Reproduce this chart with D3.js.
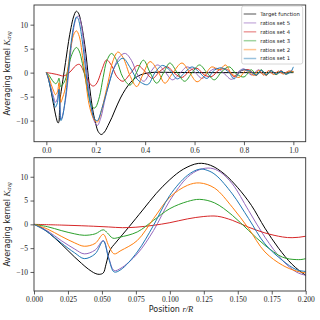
<!DOCTYPE html>
<html>
<head>
<meta charset="utf-8">
<script src="https://cdn.jsdelivr.net/npm/d3@7"></script>
<style>
body{margin:0;background:#fff}
svg{display:block}
</style>
</head>
<body>
<div id="chart"></div>
<script>
// series, in legend order
const seriesNames=["Target function","ratios set 5","ratios set 4","ratios set 3","ratios set 2","ratios set 1"];
const seriesColors=["#000000","#9467bd","#d62728","#2ca02c","#ff7f0e","#1f77b4"];

// [r/R, K_avg]
const target=[[0,0],[0.005,-0.6],[0.01,-1.6],[0.015,-2.8],[0.02,-4.1],[0.025,-5.5],[0.03,-6.9],[0.035,-8.2],[0.04,-9.4],[0.045,-10.3],[0.048,-10.5],[0.051,-10.2],[0.053,-8.4],[0.056,-5.4],[0.06,-3.9],[0.065,-2.2],[0.07,-0.5],[0.08,3.0],[0.09,6.5],[0.1,9.4],[0.11,11.6],[0.121,12.8],[0.13,12.4],[0.14,10.6],[0.15,7.7],[0.16,4.0],[0.17,-0.8],[0.18,-5.0],[0.19,-8.4],[0.2,-10.7],[0.21,-12.3],[0.222,-12.9],[0.235,-12.4],[0.25,-11],[0.265,-9.4],[0.278,-7.8],[0.3,-5.3],[0.32,-3.5],[0.34,-2.1],[0.36,-1.1],[0.38,-0.5],[0.42,0],[0.5,0.05],[0.6,0],[0.7,0],[0.8,0],[0.9,0],[1.0,0]];
const set5=[[0,0],[0.01,-1.4],[0.02,-3.4],[0.03,-5.2],[0.037,-6.2],[0.045,-5.4],[0.051,-3.4],[0.055,-7],[0.059,-9.7],[0.064,-9.2],[0.076,-6.2],[0.088,-1.3],[0.1,5.0],[0.113,9.9],[0.122,11.5],[0.13,11.8],[0.137,11.0],[0.146,8.5],[0.158,2.9],[0.17,-2.7],[0.183,-7.6],[0.193,-10],[0.2,-10.7],[0.207,-11],[0.22,-9.5],[0.24,-5],[0.27,0.5],[0.3,3.5],[0.32,4.0],[0.345,2.5],[0.37,-0.5],[0.395,-1.8],[0.42,0],[0.45,1.6],[0.48,0.2],[0.51,-1.5],[0.54,-0.2],[0.57,1.2],[0.6,0.2],[0.63,-1.2],[0.66,0.2],[0.69,0.9],[0.72,-0.2],[0.75,-1.4],[0.78,0.3],[0.8,0.8],[0.83,-0.5],[0.86,0.6],[0.88,-0.5],[0.9,0.4],[0.92,-0.3],[0.94,0.3],[0.96,-0.2],[0.98,0.3],[1.0,0.2]];
const set4=[[0,0],[0.02,-0.15],[0.04,-0.35],[0.055,-0.55],[0.065,-0.7],[0.075,-0.6],[0.088,-0.2],[0.1,0.35],[0.113,1.15],[0.125,1.65],[0.135,1.7],[0.146,0.85],[0.158,-0.6],[0.17,-1.8],[0.183,-2.65],[0.19,-2.8],[0.2,-2.5],[0.21,-1.6],[0.225,0.6],[0.244,2.65],[0.265,1.4],[0.285,-0.8],[0.31,-1.8],[0.34,-0.2],[0.37,1.5],[0.4,0.2],[0.43,-1.2],[0.46,0.3],[0.49,1.2],[0.52,-0.2],[0.55,-1.0],[0.58,0.4],[0.61,0.9],[0.64,-0.5],[0.67,-0.8],[0.7,0.6],[0.73,0.7],[0.76,-0.8],[0.79,0.4],[0.82,0.6],[0.85,-0.6],[0.87,0.5],[0.89,-0.6],[0.91,0.5],[0.93,-0.4],[0.95,0.4],[0.97,-0.3],[0.99,0.3],[1.0,0.2]];
const set3=[[0,0],[0.01,-0.5],[0.02,-1.3],[0.03,-2.0],[0.037,-2.3],[0.045,-2.0],[0.051,-1.15],[0.054,-1.8],[0.058,-2.9],[0.063,-2.7],[0.076,-1.6],[0.088,0.85],[0.1,3.3],[0.113,4.8],[0.122,5.25],[0.133,4.5],[0.146,1.9],[0.158,-1.3],[0.17,-4.4],[0.183,-6.9],[0.193,-7.4],[0.2,-7.2],[0.215,-5.0],[0.23,-1.0],[0.245,2.5],[0.264,4.0],[0.285,2.5],[0.31,-1.0],[0.339,-2.6],[0.365,0],[0.393,2.6],[0.42,0],[0.447,-2.2],[0.475,0],[0.5,2.0],[0.53,0],[0.56,-1.8],[0.59,0],[0.62,1.6],[0.65,0],[0.68,-1.5],[0.71,0.2],[0.74,1.2],[0.77,-0.3],[0.8,-0.9],[0.83,0.6],[0.85,-0.5],[0.87,0.6],[0.89,-0.5],[0.91,0.4],[0.93,-0.4],[0.95,0.3],[0.97,-0.3],[0.99,0.2],[1.0,0.1]];
const set2=[[0,0],[0.01,-1.0],[0.02,-2.5],[0.03,-3.9],[0.037,-4.6],[0.045,-4.0],[0.051,-2.1],[0.055,-4.5],[0.059,-6.2],[0.064,-5.5],[0.076,-3.4],[0.088,1.2],[0.1,5.7],[0.113,8.2],[0.122,8.7],[0.133,7.6],[0.146,3.6],[0.158,-0.9],[0.17,-5.8],[0.183,-8.6],[0.193,-9.8],[0.2,-10.2],[0.207,-10.3],[0.225,-7.5],[0.25,-2],[0.27,2.5],[0.29,4.3],[0.31,3.2],[0.34,-0.8],[0.366,-2.9],[0.39,-0.5],[0.42,2.3],[0.45,0.5],[0.48,-2.2],[0.51,-0.2],[0.549,2.0],[0.58,0],[0.61,-1.9],[0.64,-0.6],[0.67,1.2],[0.7,0.6],[0.725,1.6],[0.75,-0.2],[0.78,-1.0],[0.81,0.5],[0.84,-0.6],[0.86,0.5],[0.88,-0.5],[0.9,0.4],[0.92,-0.4],[0.94,0.3],[0.96,-0.3],[0.98,0.3],[1.0,0.2]];
const set1=[[0,0],[0.01,-1.6],[0.02,-3.9],[0.03,-6.0],[0.037,-7.2],[0.045,-6.2],[0.051,-3.5],[0.055,-7.2],[0.059,-10.0],[0.064,-9.5],[0.076,-5.8],[0.088,-0.2],[0.1,6.1],[0.113,10.3],[0.122,11.6],[0.128,11.3],[0.134,10.3],[0.146,6.4],[0.158,1.2],[0.17,-4.1],[0.183,-7.6],[0.193,-9.5],[0.2,-9.9],[0.207,-10],[0.225,-7.5],[0.25,-3],[0.28,1.5],[0.31,3.0],[0.34,1.0],[0.37,-1.5],[0.41,-2.5],[0.44,0],[0.47,1.5],[0.5,0.5],[0.53,-1.3],[0.56,0],[0.59,1.2],[0.62,0],[0.65,-1.2],[0.68,0.5],[0.71,1.0],[0.74,0],[0.76,-1.3],[0.79,0.5],[0.82,0.4],[0.85,-0.5],[0.87,0.5],[0.89,-0.4],[0.91,0.4],[0.93,-0.3],[0.95,0.3],[0.97,-0.3],[0.99,0.2],[1.0,1.2]];
const seriesData=[target,set5,set4,set3,set2,set1];

const topXTicks=[0,0.2,0.4,0.6,0.8,1.0];
const botXTicks=[0,0.025,0.05,0.075,0.1,0.125,0.15,0.175,0.2];
const yTicks=[-10,-5,0,5,10];

const W=320,H=320;
const svg=d3.select("#chart").append("svg").attr("width",W).attr("height",H);
const serif="'Liberation Serif','Times New Roman',serif";
const sans="'DejaVu Sans',sans-serif";
const fmtY=d=>d<0?"\u2212"+Math.abs(d):String(d);

function panel(id,box,xDomain,yDomain,xTicks,xFmt){
  const x=d3.scaleLinear().domain(xDomain).range([box.l,box.r]);
  const y=d3.scaleLinear().domain(yDomain).range([box.b,box.t]);
  svg.append("clipPath").attr("id",id).append("rect")
    .attr("x",box.l).attr("y",box.t).attr("width",box.r-box.l).attr("height",box.b-box.t);
  const line=d3.line().x(d=>x(d[0])).y(d=>y(d[1])).curve(d3.curveCatmullRom.alpha(0.5));
  const g=svg.append("g").attr("clip-path",`url(#${id})`);
  seriesData.forEach((s,i)=>{
    g.append("path").datum(s).attr("d",line).attr("fill","none")
      .attr("stroke",seriesColors[i]).attr("stroke-width",1).attr("stroke-linejoin","round");
  });
  const xa=svg.append("g").attr("transform",`translate(0,${box.b})`)
    .call(d3.axisBottom(x).tickValues(xTicks).tickFormat(xFmt).tickSize(3.5).tickPadding(2));
  const ya=svg.append("g").attr("transform",`translate(${box.l},0)`)
    .call(d3.axisLeft(y).tickValues(yTicks).tickFormat(fmtY).tickSize(3.5).tickPadding(2.5));
  [xa,ya].forEach(a=>{
    a.select(".domain").remove();
    a.selectAll("line").attr("stroke","#333").attr("stroke-width",0.8);
    a.selectAll("text").attr("font-family",serif).attr("font-size",7.5).attr("fill","#222");
  });
  svg.append("rect").attr("x",box.l).attr("y",box.t).attr("width",box.r-box.l).attr("height",box.b-box.t)
    .attr("fill","none").attr("stroke","#333").attr("stroke-width",0.9);
  // y label
  const yl=svg.append("text").attr("transform",`translate(9.5,${(box.t+box.b)/2}) rotate(-90)`)
    .attr("text-anchor","middle").attr("font-family",sans).attr("font-size",8).attr("fill","#222");
  yl.append("tspan").text("Averaging kernel ");
  yl.append("tspan").attr("font-family",serif).attr("font-style","italic").attr("font-size",8.5).text("K");
  yl.append("tspan").attr("font-family",serif).attr("font-style","italic").attr("font-size",6).attr("dy",1.8).text("avg");
  return {x,y};
}

const topBox={l:34,r:305.7,t:5,b:141.7};
const botBox={l:34,r:305.7,t:157.7,b:291};
panel("clipTop",topBox,[-0.05,1.05],[-14.4,14.1],topXTicks,d3.format(".1f"));
panel("clipBot",botBox,[0,0.2],[-14.0,14.0],botXTicks,d3.format(".3f"));

// x label
const xl=svg.append("text").attr("x",171).attr("y",312).attr("text-anchor","middle")
  .attr("font-family",sans).attr("font-size",8).attr("fill","#222");
xl.append("tspan").text("Position ");
xl.append("tspan").attr("font-family",serif).attr("font-style","italic").attr("font-size",8.5).text("r/R");

// legend
const lg=svg.append("g").attr("transform","translate(241.7,6)");
lg.append("rect").attr("width",61).attr("height",58).attr("rx",2)
  .attr("fill","#fff").attr("fill-opacity",0.8).attr("stroke","#ccc").attr("stroke-width",0.8);
seriesNames.forEach((n,i)=>{
  const yy=8+i*8.9;
  lg.append("line").attr("x1",2).attr("x2",14.5).attr("y1",yy).attr("y2",yy)
    .attr("stroke",seriesColors[i]).attr("stroke-width",1.5).attr("stroke-opacity",0.45);
  lg.append("text").attr("x",18.5).attr("y",yy+1.9).attr("font-family",sans).attr("font-size",5.3)
    .attr("fill","#222").text(n);
});
</script>
</body>
</html>
